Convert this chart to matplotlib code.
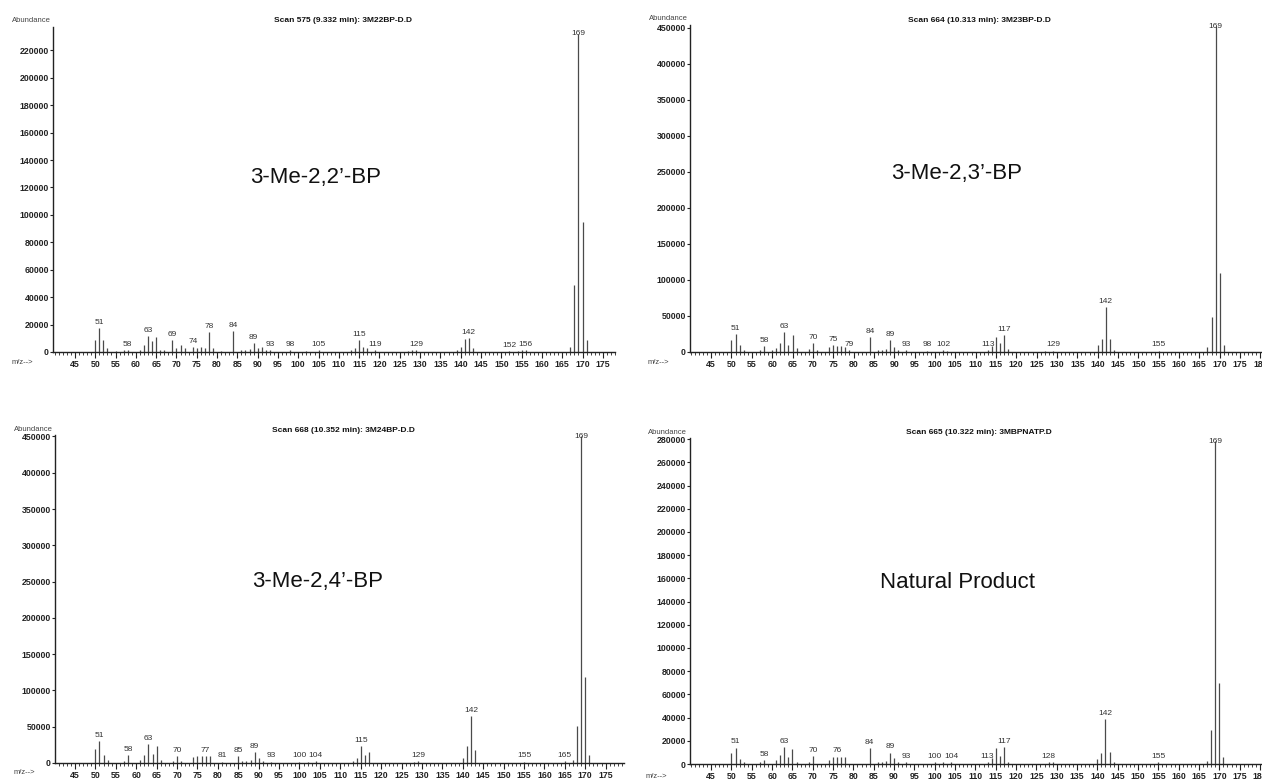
import numpy as np
import matplotlib.pyplot as plt
from matplotlib.ticker import FixedLocator, MultipleLocator

plt.rcParams['font.family'] = ['Liberation Sans', 'DejaVu Sans']

# --- spectrum data (m/z, abundance) ---
mz_22 = [50, 51, 52, 53, 55, 57, 58, 61, 62, 63, 64, 65, 66, 67, 69, 70, 71, 72, 74, 75, 76, 77, 78, 79,
         81, 84, 86, 87, 88, 89, 90, 91, 92, 93, 98, 102, 105, 113, 114, 115, 116, 117, 119,
         127, 128, 129, 139, 140, 141, 142, 143, 152, 154, 155, 156, 167, 168, 169, 170, 171]
ab_22 = [9000, 17500, 9000, 3000, 1000, 1200, 1700, 1500, 5300, 11400, 7800, 11000, 1700, 1200, 8500, 3000,
         5300, 3000, 3400, 3000, 3400, 3000, 14600, 3000, 1000, 15000, 1500, 1800, 2000, 6500, 3000, 3400,
         1500, 1200, 1200, 1000, 1300, 1500, 3000, 9000, 4000, 3000, 1500, 1000, 1500, 1500, 1500, 4000,
         9500, 10200, 3000, 1000, 1000, 1200, 1300, 4000, 48600, 232000, 95000, 9000]
lab_22 = [51, 58, 63, 69, 74, 78, 84, 89, 93, 98, 105, 115, 119, 129, 142, 152, 156, 169]

mz_23 = [50, 51, 52, 53, 57, 58, 60, 61, 62, 63, 64, 65, 66, 69, 70, 71, 74, 75, 76, 77, 78, 79,
         84, 86, 87, 88, 89, 90, 91, 93, 98, 102, 103, 113, 114, 115, 116, 117, 118,
         127, 129, 140, 141, 142, 143, 144, 155, 167, 168, 169, 170, 171]
ab_23 = [17000, 25000, 9300, 3000, 2500, 8000, 3000, 5600, 12600, 28000, 10000, 23000, 5600, 3500, 12600,
         3000, 7000, 9300, 9000, 8000, 6500, 3000, 21000, 3000, 3000, 3500, 17000, 6500, 3000, 2500, 2000,
         2500, 1500, 3000, 8000, 21000, 12600, 24000, 4000, 1500, 2000, 9300, 18700, 63000, 18700, 3000,
         2000, 6500, 49000, 452000, 110000, 10000]
lab_23 = [51, 58, 63, 70, 75, 79, 84, 89, 93, 98, 102, 113, 117, 129, 142, 155, 169]

mz_24 = [50, 51, 52, 53, 57, 58, 61, 62, 63, 64, 65, 66, 69, 70, 71, 74, 75, 76, 77, 78, 81,
         85, 86, 87, 88, 89, 90, 91, 93, 100, 102, 104, 113, 114, 115, 116, 117,
         128, 129, 140, 141, 142, 143, 155, 165, 167, 168, 169, 170, 171]
ab_24 = [19500, 30500, 11400, 4500, 3000, 11400, 4500, 11400, 26000, 12000, 23600, 4500, 3000, 9000, 3000,
         7700, 9000, 9000, 10000, 9000, 2000, 9000, 3000, 3000, 3500, 14500, 6800, 3000, 2000, 2000, 2000,
         2500, 3000, 6800, 24000, 11400, 14500, 2000, 2500, 6800, 24000, 64500, 17300, 2000, 2500, 4500,
         51000, 450000, 119000, 11400]
lab_24 = [51, 58, 63, 70, 77, 81, 85, 89, 93, 100, 104, 115, 129, 142, 155, 165, 169]

mz_nat = [50, 51, 52, 53, 57, 58, 61, 62, 63, 64, 65, 66, 69, 70, 74, 75, 76, 77, 78,
          84, 86, 87, 88, 89, 90, 91, 93, 100, 102, 104, 113, 114, 115, 116, 117, 118,
          128, 129, 140, 141, 142, 143, 144, 155, 167, 168, 169, 170, 171]
ab_nat = [9900, 14200, 4300, 2000, 2000, 3500, 3500, 7800, 15000, 6400, 12800, 2000, 2000, 7000, 3500, 5800,
          6400, 5800, 5800, 13600, 2000, 2000, 2500, 9900, 4900, 2000, 1500, 1500, 1500, 1800, 2000, 4900,
          13600, 7000, 14500, 2000, 1500, 1500, 4000, 9900, 38900, 10700, 2000, 1500, 2900, 29600, 278000,
          69600, 5800]
lab_nat = [51, 58, 63, 70, 76, 84, 89, 93, 100, 104, 113, 117, 128, 142, 155, 169]

mz_ticks = list(range(45, 185, 5))

titles = ['Scan 575 (9.332 min): 3M22BP-D.D', 'Scan 664 (10.313 min): 3M23BP-D.D',
          'Scan 668 (10.352 min): 3M24BP-D.D', 'Scan 665 (10.322 min): 3MBPNATP.D']
names = ['3-Me-2,2\u2019-BP', '3-Me-2,3\u2019-BP', '3-Me-2,4\u2019-BP', 'Natural Product']

W, H = 1262, 780
fig = plt.figure(figsize=(W / 100, H / 100), dpi=100)


def px_axes(l, r, t, b):
    return fig.add_axes([l / W, 1 - b / H, (r - l) / W, (b - t) / H])


# (left, right, top, bottom) in pixels, limits, ytick step, text spots in pixels
panels = [
    dict(box=(53, 615, 27, 352), xlim=(39.6, 178), ylim=(0, 237000), step=20000,
         mz=mz_22, ab=ab_22, lab=lab_22, abund=(31, 21), mzlab=(22, 363), name=(316, 177), title=(343, 21)),
    dict(box=(690, 1262, 25, 352), xlim=(39.8, 180.4), ylim=(0, 454000), step=50000,
         mz=mz_23, ab=ab_23, lab=lab_23, abund=(668, 18), mzlab=(658, 363), name=(957, 173), title=(979, 20)),
    dict(box=(55, 624, 435, 763), xlim=(40.1, 179.5), ylim=(0, 452000), step=50000,
         mz=mz_24, ab=ab_24, lab=lab_24, abund=(33, 429), mzlab=(24, 772), name=(318, 582), title=(343, 431)),
    dict(box=(690, 1262, 438, 764), xlim=(39.8, 180.5), ylim=(0, 281000), step=20000,
         mz=mz_nat, ab=ab_nat, lab=lab_nat, abund=(667, 432), mzlab=(656, 776), name=(957, 583), title=(979, 432)),
]

for i, p in enumerate(panels):
    l, r, t, b = p['box']
    ax = px_axes(l, r, t, b)
    ax.vlines(p['mz'], 0, p['ab'], color='#4a4a4a', lw=0.9)
    ax.xaxis.set_major_locator(FixedLocator(mz_ticks))
    ax.xaxis.set_minor_locator(MultipleLocator(1))
    ax.yaxis.set_major_locator(MultipleLocator(p['step']))
    ax.set_xlim(*p['xlim'])
    ax.set_ylim(*p['ylim'])
    for s in ['top', 'right']:
        ax.spines[s].set_visible(False)
    for s in ['left', 'bottom']:
        ax.spines[s].set_color('#222222')
        ax.spines[s].set_linewidth(1.0)
    ax.tick_params(axis='x', which='major', length=4, width=0.8, pad=2, labelsize=6.3, colors='#222222')
    ax.tick_params(axis='x', which='minor', length=2, width=0.6, colors='#222222')
    ax.tick_params(axis='y', length=2.5, width=0.8, pad=0.5, labelsize=6.3, colors='#222222')
    for lb in ax.get_xticklabels() + ax.get_yticklabels():
        lb.set_fontweight('bold')

    top = p['ylim'][1]
    for m in p['lab']:
        v = p['ab'][p['mz'].index(m)]
        if v > 0.9 * top:
            ax.text(m, v, str(m), ha='center', va='center', fontsize=6, color='#333333')
        else:
            ax.annotate(str(m), (m, v), xytext=(0, 1.5), textcoords='offset points',
                        ha='center', va='bottom', fontsize=6, color='#333333')

    x0, y0 = p['abund']
    fig.text(x0 / W, 1 - y0 / H, 'Abundance', ha='center', va='center', fontsize=5.5, color='#444444')
    x0, y0 = p['mzlab']
    fig.text(x0 / W, 1 - y0 / H, 'm/z-->', ha='center', va='center', fontsize=5.5, color='#444444')
    x0, y0 = p['title']
    fig.text(x0 / W, 1 - y0 / H, titles[i], ha='center', va='center',
             fontsize=6, fontweight='bold', color='#111111')
    x0, y0 = p['name']
    fig.text(x0 / W, 1 - y0 / H, names[i], ha='center', va='center', fontsize=16, color='#111111')

fig.savefig('out.png', dpi=100)
